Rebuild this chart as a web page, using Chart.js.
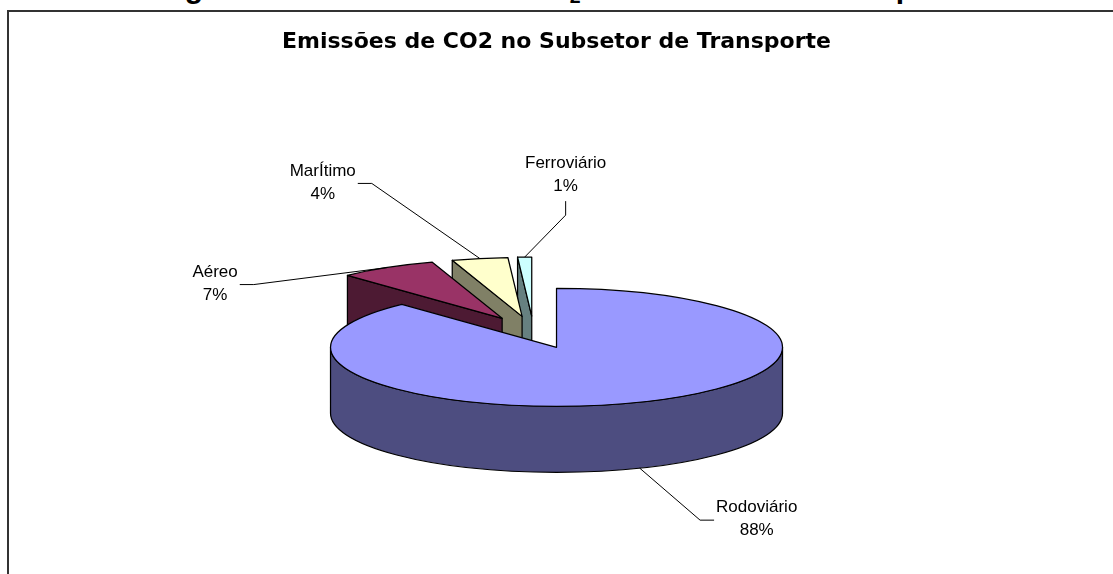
<!DOCTYPE html>
<html lang="pt">
<head>
<meta charset="utf-8">
<title>Emissões de CO2 no Subsetor de Transporte</title>
<script src="https://cdn.jsdelivr.net/npm/chart.js@4.4.1/dist/chart.umd.min.js"></script>
<style>
  html, body { margin: 0; padding: 0; background: #fff; overflow: hidden; }
  body { width: 1113px; height: 574px; position: relative; }
  #cap { position: absolute; left: 158px; top: -27px; font: bold 30px "Liberation Sans", Arial, sans-serif;
         line-height: 30px; white-space: nowrap; color: #000; }
  #cap sub { font-size: 65%; vertical-align: -0.25em; line-height: 0; }
  #frame { position: absolute; left: 7px; top: 10px; width: 1300px; height: 800px; border: 2px solid #333; }
  #chart { position: absolute; left: 0; top: 0; }
</style>
</head>
<body>
<div id="cap">Figura 4.3 – Emissões de CO<sub>2</sub> no Subsetor de Transporte</div>
<div id="frame"></div>
<canvas id="chart" width="1113" height="574"></canvas>
<script>
'use strict';

var categories = ['Rodoviário', 'Aéreo', 'MarÍtimo', 'Ferroviário'];
var shares = [88, 7, 4, 1];
var topColors = ['#9999ff', '#993366', '#ffffcc', '#ccffff'];
var sideColors = ['#4d4d80', '#4d1a33', '#808066', '#668080'];

// Chart.js has no 3D pie, so the arcs it lays out are drawn here as tilted, exploded slices
var pie3d = {
  id: 'pie3d',
  beforeDatasetsDraw: function (chart, args, opts) {
    var ctx = chart.ctx;
    var arcs = chart.getDatasetMeta(0).data;
    var k = opts.tilt, depth = opts.depth, d = opts.explode;

    var slices = arcs.map(function (a, i) {
      var mid = (a.startAngle + a.endAngle) / 2;
      return { i: i, s: a.startAngle, e: a.endAngle, r: a.outerRadius, mid: mid,
               pct: Math.round(a.circumference / (2 * Math.PI) * 100),
               x: a.x + d * Math.cos(mid), y: a.y + k * d * Math.sin(mid) };
    });

    // centre the whole exploded pie in the chart area
    var x0 = Infinity, x1 = -Infinity, y0 = Infinity, y1 = -Infinity;
    slices.forEach(function (p) {
      for (var j = 0; j <= 90; j++) {
        var t = p.s + (p.e - p.s) * j / 90;
        var px = p.x + p.r * Math.cos(t), py = p.y + k * p.r * Math.sin(t);
        x0 = Math.min(x0, px, p.x); x1 = Math.max(x1, px, p.x);
        y0 = Math.min(y0, py, p.y); y1 = Math.max(y1, py + depth, p.y + depth);
      }
    });
    var area = chart.chartArea;
    var sx = (area.left + area.right) / 2 - (x0 + x1) / 2;
    var sy = (area.top + area.bottom) / 2 - (y0 + y1) / 2;
    slices.forEach(function (p) { p.x += sx; p.y += sy; });

    ctx.save();
    ctx.lineWidth = 1.25;
    ctx.strokeStyle = '#000';
    ctx.lineJoin = 'round';

    // back slices first
    slices.slice().sort(function (a, b) { return Math.sin(a.mid) - Math.sin(b.mid); })
      .forEach(function (p) {
        var ry = k * p.r;
        ctx.fillStyle = sideColors[p.i];
        for (var n = -1; n <= 1; n++) {
          var t0 = Math.max(p.s, 2 * Math.PI * n), t1 = Math.min(p.e, 2 * Math.PI * n + Math.PI);
          if (t1 > t0) {
            ctx.beginPath();
            ctx.ellipse(p.x, p.y, p.r, ry, 0, t0, t1);
            ctx.ellipse(p.x, p.y + depth, p.r, ry, 0, t1, t0, true);
            ctx.closePath();
            ctx.fill();
            ctx.stroke();
          }
        }
        [[p.s, Math.cos(p.s) < -1e-6], [p.e, Math.cos(p.e) > 1e-6]].forEach(function (f) {
          if (!f[1]) return;
          var ex = p.x + p.r * Math.cos(f[0]), ey = p.y + ry * Math.sin(f[0]);
          ctx.beginPath();
          ctx.moveTo(p.x, p.y);
          ctx.lineTo(ex, ey);
          ctx.lineTo(ex, ey + depth);
          ctx.lineTo(p.x, p.y + depth);
          ctx.closePath();
          ctx.fill();
          ctx.stroke();
        });
        ctx.fillStyle = topColors[p.i];
        ctx.beginPath();
        ctx.moveTo(p.x, p.y);
        ctx.ellipse(p.x, p.y, p.r, ry, 0, p.s, p.e);
        ctx.closePath();
        ctx.fill();
        ctx.stroke();
      });

    // data labels with leader lines
    ctx.lineWidth = 1;
    ctx.font = opts.labelFont;
    ctx.textAlign = 'center';
    ctx.textBaseline = 'middle';
    var lh = opts.lineHeight;
    slices.forEach(function (p) {
      var ry = k * p.r;
      var front = Math.sin(p.mid) > 0;
      var ax = p.x + p.r * Math.cos(p.mid);
      var ay = p.y + ry * Math.sin(p.mid) + (front ? depth : 0);
      var shift = opts.labelShift[p.i];
      var cx = ax + shift[0], cy = ay + shift[1];
      var lines = [categories[p.i], p.pct + '%'];
      var w = Math.max.apply(null, lines.map(function (s) { return ctx.measureText(s).width; }));
      var h = lines.length * lh;
      var dx = ax - cx, dy = ay - cy, bx, by, kx, ky;
      if (Math.abs(dx) * h > Math.abs(dy) * w) {
        bx = cx + Math.sign(dx) * (w / 2 + 2); by = cy + 1;
        kx = bx + Math.sign(dx) * 14; ky = by;
      } else {
        bx = cx; by = cy + Math.sign(dy) * (h / 2 + 3);
        kx = bx; ky = by + Math.sign(dy) * 14;
      }
      ctx.beginPath();
      ctx.moveTo(bx, by);
      ctx.lineTo(kx, ky);
      ctx.lineTo(ax, ay);
      ctx.stroke();
      ctx.fillStyle = '#000';
      lines.forEach(function (s, j) {
        ctx.fillText(s, cx, cy - h / 2 + lh * (j + 0.5));
      });
    });
    ctx.restore();
    return false;
  }
};

new Chart(document.getElementById('chart'), {
  type: 'pie',
  data: {
    labels: categories,
    datasets: [{
      data: shares,
      backgroundColor: topColors
    }]
  },
  options: {
    responsive: false,
    animation: false,
    events: [],
    radius: 226,
    layout: { padding: 0 },
    plugins: {
      legend: { display: false },
      tooltip: { enabled: false },
      title: {
        display: true,
        text: 'Emissões de CO2 no Subsetor de Transporte',
        color: '#000',
        font: { family: 'DejaVu Sans', size: 22, weight: 'bold' },
        padding: { top: 29, bottom: 100 }
      },
      pie3d: {
        tilt: 0.261,
        depth: 66,
        explode: 62,
        labelFont: '17px "Liberation Sans", Arial, sans-serif',
        lineHeight: 23,
        labelShift: [[117, 51], [-172, 16], [-157, -76], [41, -82]]
      }
    }
  },
  plugins: [pie3d]
});
</script>
</body>
</html>
